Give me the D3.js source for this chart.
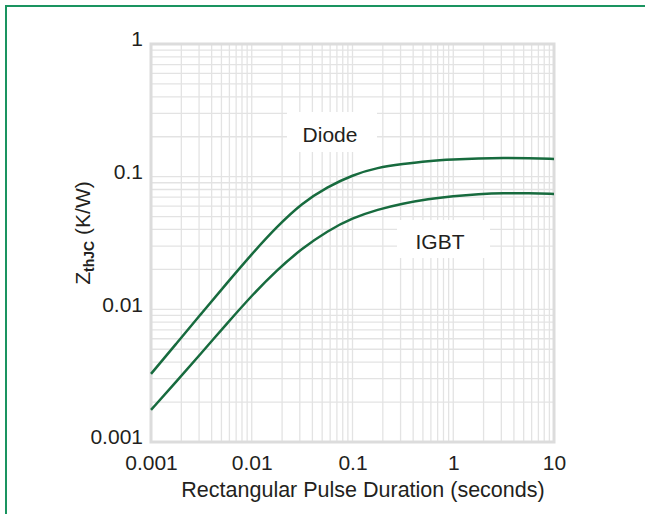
<!DOCTYPE html>
<html><head><meta charset="utf-8">
<script src="https://cdn.jsdelivr.net/npm/d3@7"></script>
<style>html,body{margin:0;padding:0;background:#fff;}svg{display:block;}</style>
</head><body>
<script>
// Data, pulse durations at quarter-decade steps
const pulseDuration = [0.001, 0.00178, 0.00316, 0.00562, 0.01, 0.0178, 0.0316, 0.0562, 0.1, 0.178, 0.316, 0.562, 1, 1.78, 3.16, 5.62, 10];
const diodeZth = [0.00326, 0.00551, 0.00929, 0.01565, 0.0261, 0.04207, 0.0633, 0.0836, 0.103, 0.1173, 0.1246, 0.1313, 0.1348, 0.1371, 0.1383, 0.1376, 0.1359];
const igbtZth  = [0.001745, 0.002847, 0.004685, 0.007747, 0.01271, 0.01984, 0.02877, 0.03898, 0.04884, 0.0566, 0.06281, 0.06792, 0.07153, 0.07407, 0.07537, 0.07497, 0.07407];
const xTickValues = [0.001, 0.01, 0.1, 1, 10];
const xTickLabels = ["0.001", "0.01", "0.1", "1", "10"];
const yTickValues = [0.001, 0.01, 0.1, 1];
const yTickLabels = ["0.001", "0.01", "0.1", "1"];
const seriesNames = ["Diode", "IGBT"];

const W = 645, H = 514;
const m = {left: 151, right: 554, top: 44, bottom: 442};
const font = "Liberation Sans, Arial, Helvetica, sans-serif";
const svg = d3.select("body").append("svg").attr("width", W).attr("height", H);

// outer green frame
svg.append("rect").attr("x", 6).attr("y", 6).attr("width", 700).attr("height", 600)
  .attr("fill", "none").attr("stroke", "#1a9460").attr("stroke-width", 2);

const x = d3.scaleLog().domain([0.001, 10]).range([m.left, m.right]);
const y = d3.scaleLog().domain([0.001, 1]).range([m.bottom, m.top]);

// minor + major grid
const grid = svg.append("g");
const xGrid = [], yGrid = [];
for (let e = -3; e < 1; e++) for (let k = 1; k < 10; k++) xGrid.push(k * Math.pow(10, e));
for (let e = -3; e < 0; e++) for (let k = 1; k < 10; k++) yGrid.push(k * Math.pow(10, e));
grid.selectAll(".vx").data(xGrid).join("line")
  .attr("x1", d => x(d)).attr("x2", d => x(d)).attr("y1", m.top).attr("y2", m.bottom)
  .attr("stroke", "#e3e3e3").attr("stroke-width", 1.3);
grid.selectAll(".hy").data(yGrid).join("line")
  .attr("y1", d => y(d)).attr("y2", d => y(d)).attr("x1", m.left).attr("x2", m.right)
  .attr("stroke", "#e3e3e3").attr("stroke-width", 1.3);

// label boxes (white backgrounds)
const labelPos = [{x: 330, y: 142, bx: 287, by: 112, bw: 90, bh: 40}, {x: 440, y: 249, bx: 397, by: 220, bw: 93, bh: 38}];
svg.selectAll(".lbox").data(labelPos).join("rect")
  .attr("x", d => d.bx).attr("y", d => d.by).attr("width", d => d.bw).attr("height", d => d.bh).attr("fill", "#fff");

// plot border
svg.append("rect").attr("x", m.left).attr("y", m.top).attr("width", m.right - m.left).attr("height", m.bottom - m.top)
  .attr("fill", "none").attr("stroke", "#dcdcdc").attr("stroke-width", 3);

// curves
const line = d3.line().x(d => x(d[0])).y(d => y(d[1])).curve(d3.curveBasis);
[diodeZth, igbtZth].forEach(s => {
  svg.append("path").datum(pulseDuration.map((t, i) => [t, s[i]]))
    .attr("d", line).attr("fill", "none").attr("stroke", "#176b3e").attr("stroke-width", 2.5);
});

// series labels
svg.selectAll(".lbl").data(labelPos).join("text")
  .attr("x", d => d.x).attr("y", d => d.y).attr("text-anchor", "middle")
  .attr("font-family", font).attr("font-size", 21).attr("fill", "#231f20")
  .text((d, i) => seriesNames[i]);

// axes (ticks only as labels)
const xAxis = d3.axisBottom(x).tickValues(xTickValues).tickFormat((d, i) => xTickLabels[i]).tickSize(0).tickPadding(13);
const gx = svg.append("g").attr("transform", `translate(0,${m.bottom})`).call(xAxis);
gx.select(".domain").remove();
gx.selectAll("text").attr("font-family", font).attr("font-size", 21).attr("fill", "#231f20");

const yAxis = d3.axisLeft(y).tickValues(yTickValues).tickFormat((d, i) => yTickLabels[i]).tickSize(0).tickPadding(8);
const gy = svg.append("g").call(yAxis);
gy.attr("transform", `translate(${m.left},-5)`);
gy.select(".domain").remove();
gy.selectAll("text").attr("font-family", font).attr("font-size", 21).attr("fill", "#231f20");

// axis titles
svg.append("text").attr("x", 363).attr("y", 497).attr("text-anchor", "middle")
  .attr("font-family", font).attr("font-size", 21.5).attr("fill", "#231f20")
  .text("Rectangular Pulse Duration (seconds)");

const yt = svg.append("text").attr("transform", "translate(90,233) rotate(-90)").attr("text-anchor", "middle")
  .attr("font-family", font).attr("font-size", 21).attr("fill", "#231f20");
yt.append("tspan").text("Z");
yt.append("tspan").attr("font-size", 14).attr("font-weight", "bold").attr("dy", 4).text("thJC");
yt.append("tspan").attr("dy", -4).text(" (K/W)");
</script>
</body></html>
